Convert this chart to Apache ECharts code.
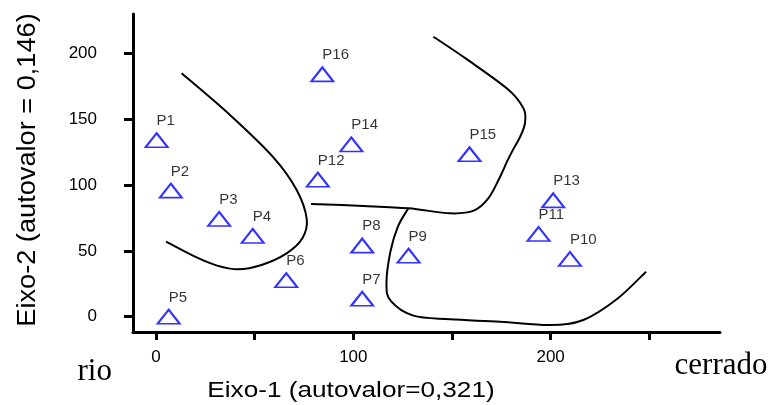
<!DOCTYPE html>
<html>
<head>
<meta charset="utf-8">
<script src="https://cdn.jsdelivr.net/npm/echarts@6/dist/echarts.min.js"></script>
<style>
html,body{margin:0;padding:0;background:#fff;}
#chart{width:769px;height:405px;}
</style>
</head>
<body>
<div id="chart"></div>
<script>
// ---- data ----
const pointNames = ['P1','P2','P3','P4','P5','P6','P7','P8','P9','P10','P11','P12','P13','P14','P15','P16'];
const pointX = [0.3, 7.5, 32, 49, 6.4, 66, 104.5, 104.5, 128, 209.8, 193.9, 82, 201.3, 99, 158.9, 84.3];
const pointY = [134, 95.7, 74.2, 61.3, 0, 27.7, 13.6, 54, 46.3, 43.8, 62.8, 104, 88.3, 130.8, 123.3, 184];

const curve1X = [13.0, 37.5, 59.5, 71.3, 76.4, 74.2, 66.2, 53.5, 41.5, 31.0, 20.6, 5.1];
const curve1Y = [184.8, 153.2, 121.0, 96.2, 74.0, 59.5, 48.1, 39.3, 36.0, 38.8, 45.0, 57.0];

const curve2X = [78.6, 105.1, 127.9, 149.0, 161.0, 168.5, 174.4, 177.9, 181.3, 184.6, 187.0, 186.3, 178.5, 158.0, 140.6];
const curve2Y = [85.6, 84.1, 82.3, 78.5, 80.5, 90.0, 106.3, 117.7, 127.8, 136.7, 147.0, 158.0, 172.5, 195.0, 212.6];

const curve3X = [127.9, 122.6, 118.8, 116.8, 119.0, 130.4, 149.0, 174.4, 199.7, 216.6, 233.5, 248.4];
const curve3Y = [82.3, 68.4, 49.4, 25.0, 12.0, 0.8, -2.0, -3.8, -6.3, -2.5, 13.2, 34.2];

const xTicks = [0, 50, 100, 150, 200, 250];
const xTickLabels = [0, 100, 200];
const yTicks = [0, 50, 100, 150, 200];
const yTickLabels = [0, 50, 100, 150, 200];

const xTitle = 'Eixo-1 (autovalor=0,321)';
const yTitle = 'Eixo-2 (autovalor = 0,146)';
const leftEnd = 'rio';
const rightEnd = 'cerrado';

// ---- build ----
const zip = (xs, ys) => xs.map((x, i) => [x, ys[i]]);
const points = pointNames.map((n, i) => ({ name: n, value: [pointX[i], pointY[i]] }));

const sans = 'Liberation Sans, Arial, Helvetica, sans-serif';
const serif = 'Liberation Serif, Times New Roman, serif';

// smooth curve (Catmull-Rom -> cubic Bezier) through the data points, positioned via api.coord
function curveSeries(data) {
  return {
    type: 'custom',
    data: data,
    silent: true,
    z: 1,
    encode: { x: 0, y: 1 },
    renderItem: function (params, api) {
      if (params.dataIndex !== 0) return null;
      const p = data.map(d => api.coord(d));
      let path = 'M' + p[0][0] + ' ' + p[0][1];
      for (let i = 0; i < p.length - 1; i++) {
        const p0 = p[Math.max(i - 1, 0)], p1 = p[i], p2 = p[i + 1], p3 = p[Math.min(i + 2, p.length - 1)];
        const c1x = p1[0] + (p2[0] - p0[0]) / 6, c1y = p1[1] + (p2[1] - p0[1]) / 6;
        const c2x = p2[0] - (p3[0] - p1[0]) / 6, c2y = p2[1] - (p3[1] - p1[1]) / 6;
        path += ' C' + c1x + ' ' + c1y + ' ' + c2x + ' ' + c2y + ' ' + p2[0] + ' ' + p2[1];
      }
      return { type: 'path', shape: { pathData: path }, style: { stroke: '#000', fill: null, lineWidth: 2 } };
    }
  };
}

const chart = echarts.init(document.getElementById('chart'), null, { renderer: 'canvas' });
chart.setOption({
  animation: false,
  backgroundColor: '#fff',
  grid: { left: 133, top: 14, width: 587, height: 318, containLabel: false, outerBoundsMode: 'none' },
  xAxis: {
    type: 'value',
    min: -11.66, max: 285.85,
    splitLine: { show: false },
    axisLine: { show: true, onZero: false, lineStyle: { color: '#000', width: 3 } },
    axisTick: { show: true, length: 8, customValues: xTicks, lineStyle: { color: '#000', width: 3 } },
    axisLabel: { customValues: xTickLabels, margin: 17, fontSize: 17, color: '#000', fontFamily: sans }
  },
  yAxis: {
    type: 'value',
    min: -11.62, max: 229.84,
    splitLine: { show: false },
    axisLine: { show: true, onZero: false, lineStyle: { color: '#000', width: 3 } },
    axisTick: { show: true, length: 9, customValues: yTicks, lineStyle: { color: '#000', width: 3 } },
    axisLabel: { customValues: yTickLabels, margin: 36, fontSize: 17, color: '#000', fontFamily: sans }
  },
  series: [
    curveSeries(zip(curve1X, curve1Y)),
    curveSeries(zip(curve2X, curve2Y)),
    curveSeries(zip(curve3X, curve3Y)),
    {
      type: 'scatter',
      data: points,
      symbol: 'triangle',
      symbolSize: [22, 14],
      itemStyle: { color: 'rgba(0,0,0,0)', borderColor: '#0000ff', borderWidth: 2 },
      label: {
        show: true,
        formatter: p => p.name,
        position: 'top',
        align: 'left',
        distance: 4,
        fontSize: 15,
        color: '#000',
        fontFamily: sans
      },
      z: 3
    }
  ],
  graphic: [
    { type: 'text', x: 351, y: 390.5, scaleX: 1.19, style: { x: 0, y: 0, text: xTitle, font: '22px ' + sans, fill: '#000', align: 'center', verticalAlign: 'middle' } },
    { type: 'text', x: 28, y: 170, rotation: Math.PI / 2, scaleX: 1.087, style: { x: 0, y: 0, text: yTitle, font: '25px ' + sans, fill: '#000', align: 'center', verticalAlign: 'middle' } },
    { type: 'text', x: 94.7, y: 372, style: { x: 0, y: 0, text: leftEnd, font: '31px ' + serif, fill: '#000', align: 'center', verticalAlign: 'middle' } },
    { type: 'text', x: 721, y: 365.5, style: { x: 0, y: 0, text: rightEnd, font: '31px ' + serif, fill: '#000', align: 'center', verticalAlign: 'middle' } }
  ]
});
</script>
</body>
</html>
